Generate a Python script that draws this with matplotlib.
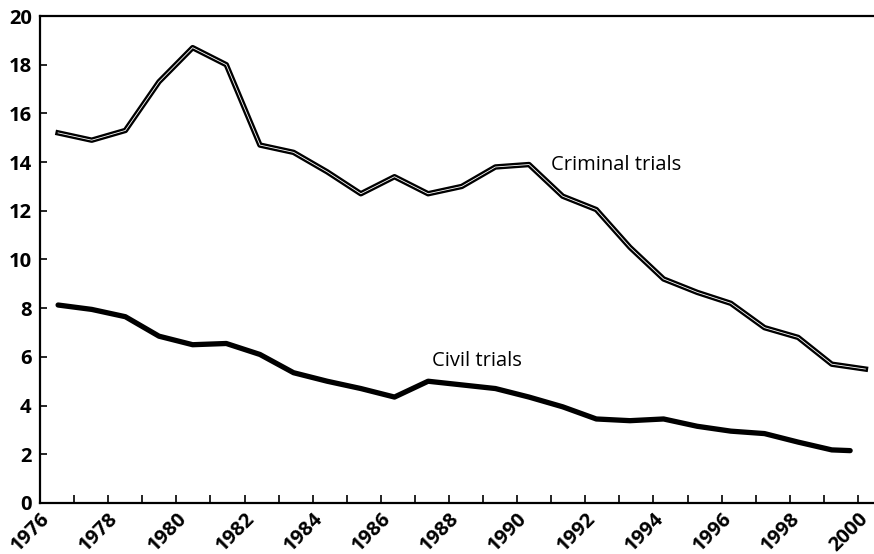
import numpy as np
import matplotlib
matplotlib.use("Agg")
import matplotlib.pyplot as plt

obs_index = np.arange(25)
criminal_x = 1976.53 + 0.987 * obs_index
civil_x = np.append(criminal_x[:-1], 1999.77)

criminal = [15.2, 14.9, 15.3, 17.3, 18.7, 18.0, 14.7, 14.4, 13.6, 12.7,
            13.4, 12.7, 13.0, 13.8, 13.9, 12.6, 12.05, 10.5, 9.2, 8.65,
            8.2, 7.2, 6.8, 5.7, 5.5]
civil = [8.13, 7.95, 7.65, 6.85, 6.5, 6.55, 6.1, 5.35, 5.0, 4.7,
         4.35, 5.0, 4.85, 4.7, 4.35, 3.95, 3.45, 3.38, 3.45, 3.15,
         2.95, 2.85, 2.5, 2.18, 2.15]

years = list(range(1976, 2001))
x_tick_labels = [str(y) if y % 2 == 0 else '' for y in years]
y_ticks = list(range(0, 21, 2))

plt.rcParams['font.family'] = ['Open Sans', 'DejaVu Sans']

fig = plt.figure(figsize=(8.74, 5.54), dpi=100)
ax = fig.add_axes([0.0458, 0.0921, 0.9542, 0.879])

# criminal: double line (black outline with thin white core)
ax.plot(criminal_x, criminal, color='black', lw=3.9, solid_joinstyle='round')
ax.plot(criminal_x, criminal, color='white', lw=0.6, solid_joinstyle='round')
# civil: solid thick line
ax.plot(civil_x, civil, color='black', lw=3.8, solid_joinstyle='round',
        solid_capstyle='round')

ax.set_xlim(1976, 2000.47)
ax.set_ylim(0, 20)

ax.set_xticks(years)
ax.set_xticklabels(x_tick_labels)
for lab in ax.get_xticklabels():
    lab.set_rotation(45)
    lab.set_ha('right')
    lab.set_va('top')
    lab.set_rotation_mode('anchor')
ax.set_yticks(y_ticks)
ax.set_yticklabels([str(v) for v in y_ticks])

ax.tick_params(axis='x', direction='in', length=6, width=1.2, labelsize=14.5,
               pad=4)
ax.tick_params(axis='y', direction='in', length=5, width=1.2, labelsize=14.5,
               pad=6)
for lab in ax.get_xticklabels() + ax.get_yticklabels():
    lab.set_fontweight('bold')

ax.spines['right'].set_visible(False)
for s in ['left', 'bottom', 'top']:
    ax.spines[s].set_linewidth(1.6)

ax.text(1991.0, 13.88, 'Criminal trials', fontsize=14.5, va='center', ha='left',
        fontweight='medium')
ax.text(1987.5, 5.83, 'Civil trials', fontsize=14.5, va='center', ha='left',
        fontweight='medium')

fig.savefig('out.png', dpi=100)
